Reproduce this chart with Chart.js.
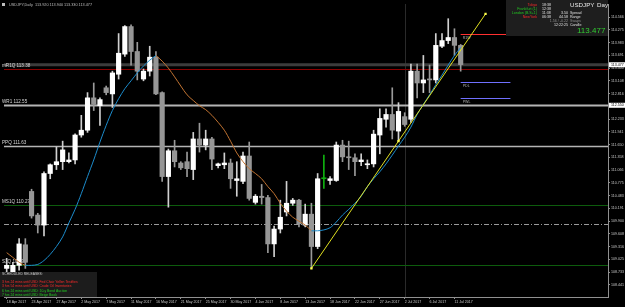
<!DOCTYPE html>
<html>
<head>
<meta charset="utf-8">
<script src="https://cdn.jsdelivr.net/npm/chart.js@4.4.0/dist/chart.umd.min.js"></script>
<style>
  html, body { margin: 0; padding: 0; background: #000; }
  canvas { display: block; }
</style>
</head>
<body>
<canvas id="usdjpyChart" width="625" height="307"></canvas>
<script>
// daily bars, broker shows sunday candles
const dates = [
  "18 Apr 2017", "19 Apr 2017", "20 Apr 2017", "21 Apr 2017", "23 Apr 2017", "24 Apr 2017", "25 Apr 2017", "26 Apr 2017", "27 Apr 2017", "28 Apr 2017",
  "30 Apr 2017", "1 May 2017", "2 May 2017", "3 May 2017", "4 May 2017", "5 May 2017", "7 May 2017", "8 May 2017", "9 May 2017", "10 May 2017",
  "11 May 2017", "12 May 2017", "14 May 2017", "15 May 2017", "16 May 2017", "17 May 2017", "18 May 2017", "19 May 2017", "21 May 2017", "22 May 2017",
  "23 May 2017", "24 May 2017", "25 May 2017", "26 May 2017", "28 May 2017", "29 May 2017", "30 May 2017", "31 May 2017", "1 Jun 2017", "2 Jun 2017",
  "4 Jun 2017", "5 Jun 2017", "6 Jun 2017", "7 Jun 2017", "8 Jun 2017", "9 Jun 2017", "11 Jun 2017", "12 Jun 2017", "13 Jun 2017", "14 Jun 2017",
  "15 Jun 2017", "16 Jun 2017", "18 Jun 2017", "19 Jun 2017", "20 Jun 2017", "21 Jun 2017", "22 Jun 2017", "23 Jun 2017", "25 Jun 2017", "26 Jun 2017",
  "27 Jun 2017", "28 Jun 2017", "29 Jun 2017", "30 Jun 2017", "2 Jul 2017", "3 Jul 2017", "4 Jul 2017", "5 Jul 2017", "6 Jul 2017", "7 Jul 2017",
  "9 Jul 2017", "10 Jul 2017", "11 Jul 2017", "12 Jul 2017"
];

const open = [
  108.82, 108.55, 108.89, 109.36, 110.58, 110.04, 109.81, 110.99, 111.19, 111.26,
  111.26, 111.30, 111.87, 111.98, 112.72, 112.54, 112.95, 112.81, 113.26, 113.72,
  114.35, 113.78, 113.15, 113.33, 113.65, 112.84, 110.92, 111.51, 111.23, 111.26,
  111.08, 111.78, 111.64, 111.78, 111.17, 111.19, 111.23, 110.83, 110.81, 111.39,
  110.33, 110.47, 110.44, 109.38, 109.72, 110.11, 110.31, 110.38, 109.81, 110.06,
  109.32, 110.87, 110.83, 110.83, 111.64, 111.37, 111.35, 111.26, 111.19, 111.21,
  111.87, 112.23, 112.34, 111.96, 112.29, 112.23, 113.33, 113.06, 113.15, 113.13,
  113.90, 114.03, 114.10, 113.92
];
const high = [
  109.05, 108.96, 109.50, 109.50, 110.63, 110.08, 111.03, 111.21, 111.60, 111.73,
  111.46, 111.90, 112.32, 112.84, 113.06, 112.72, 112.99, 113.33, 114.19, 114.37,
  114.39, 113.99, 113.38, 113.90, 113.78, 112.86, 111.55, 111.75, 111.26, 111.48,
  111.93, 112.14, 111.98, 111.82, 111.23, 111.46, 111.32, 111.26, 111.48, 111.71,
  110.51, 110.74, 110.49, 109.79, 110.38, 110.81, 110.42, 110.40, 110.29, 110.31,
  110.99, 111.41, 110.92, 111.71, 111.75, 111.73, 111.44, 111.44, 111.30, 111.98,
  112.47, 112.47, 112.95, 112.61, 112.38, 113.49, 113.49, 113.69, 113.47, 114.19,
  114.19, 114.53, 114.30, 113.94
];
const low = [
  108.55, 108.44, 108.78, 108.82, 109.97, 109.63, 109.56, 110.87, 111.08, 111.08,
  111.23, 111.21, 111.82, 111.93, 112.43, 112.09, 112.79, 112.50, 113.15, 113.67,
  113.47, 113.13, 113.11, 113.22, 112.79, 110.81, 110.22, 111.14, 111.08, 110.92,
  110.85, 111.48, 111.53, 111.08, 111.12, 111.10, 110.65, 110.47, 110.76, 110.38,
  110.29, 110.29, 109.18, 109.09, 109.63, 110.02, 110.26, 109.77, 109.77, 108.82,
  109.27, 110.65, 110.74, 110.81, 111.26, 111.08, 110.94, 111.17, 111.10, 111.14,
  111.44, 112.05, 111.78, 111.73, 112.07, 112.16, 112.72, 112.84, 112.84, 113.06,
  113.87, 113.96, 113.69, 113.33
];
const close = [
  108.89, 108.89, 109.38, 108.96, 110.02, 109.81, 110.99, 111.19, 111.26, 111.53,
  111.30, 111.87, 111.98, 112.72, 112.57, 112.68, 112.84, 113.29, 113.74, 114.35,
  113.78, 113.33, 113.33, 113.65, 112.81, 110.92, 111.51, 111.26, 111.12, 111.10,
  111.78, 111.64, 111.78, 111.32, 111.21, 111.23, 110.87, 110.87, 111.39, 110.42,
  110.47, 110.44, 109.38, 109.72, 109.99, 110.31, 110.38, 109.84, 110.06, 109.32,
  110.87, 110.89, 110.87, 111.64, 111.37, 111.35, 111.26, 111.30, 111.21, 111.89,
  112.25, 112.34, 111.98, 112.41, 112.11, 113.33, 113.06, 113.13, 113.13, 113.92,
  114.03, 114.10, 113.92, 113.48
];

// doji flagged by an indicator (drawn green)
const flaggedBar = 51;

// colour-switching moving average: blue while rising, orange while falling
const maRising = [
  null, null, null, 108.89, 108.89, 108.91, 109.00, 109.14, 109.32, 109.54,
  109.86, 110.17, 110.53, 110.92, 111.30, 111.71, 112.09, 112.43, 112.70, 112.93,
  113.11, 113.29, 113.45, 113.58, 113.69, null, null, null, null, null,
  null, null, null, null, null, null, null, null, null, null,
  null, null, null, null, null, null, null, null, null, 109.68,
  109.68, 109.70, 109.75, 109.88, 110.04, 110.17, 110.31, 110.47, 110.69, 110.87,
  111.03, 111.21, 111.41, 111.62, 111.82, 112.05, 112.34, 112.57, 112.79, 113.02,
  113.24, 113.47, 113.69, 113.87
];
const maFalling = [
  109.18, 109.07, 108.96, 108.89, null, null, null, null, null, null,
  null, null, null, null, null, null, null, null, null, null,
  null, null, null, null, 113.69, 113.56, 113.40, 113.20, 112.99, 112.79,
  112.66, 112.54, 112.45, 112.32, 112.16, 111.98, 111.73, 111.46, 111.26, 111.10,
  110.99, 110.87, 110.69, 110.53, 110.31, 110.13, 109.99, 109.90, 109.81, 109.68,
  null, null, null, null, null, null, null, null, null, null,
  null, null, null, null, null, null, null, null, null, null,
  null, null, null, null
];

// hand drawn trend line (bar index, price)
const trendIdx = [49, 63, 77];
const trendValues = [108.82, 111.73, 114.64];

const priceTicks = [
  114.566, 114.275, 113.983, 113.691, 113.400, 113.108, 112.816, 112.525, 112.233, 111.941, 111.650,
  111.358, 111.066, 110.775, 110.483, 110.191, 109.900, 109.608, 109.316, 109.025, 108.733, 108.441
];

const levelNames = ["mR1Q", "WR1", "PPQ", "MS1Q", "S1Q"];
const levelValues = [113.38, 112.55, 111.63, 110.27, 108.90];
const levelColors = ["#8b0000", "#b4b4b4", "#b4b4b4", "#0d5c0d", "#0d5c0d"];
const levelWidths = [1, 2, 1.5, 1, 1];
const dashLevel = 109.83;
const bidPrice = 113.477;

const shortNames = ["R1W", "PDL", "PWL"];
const shortValues = [114.19, 113.08, 112.72];
const shortColors = ["#ff3030", "#7070ff", "#7070ff"];

const releases = [
  "3 hrs 24 mins until USD: Fed Chair Yellen Testifies",
  "3 hrs 54 mins until USD: Crude Oil Inventories",
  "6 hrs 24 mins until USD: 10-y Bond Auction",
  "7 hrs 24 mins until USD: Beige Book"
];
const releaseColors = ["#ff2a2a", "#ff2a2a", "#22c822", "#22c822"];

const sessions = ["Tokyo", "Frankfurt (1)", "London (B.S+1)", "NewYork"];
const sessionTimes = ["18:38", "12:38", "11:38", "06:38"];
const sessionColors = ["#ff2a2a", "#22c822", "#22c822", "#ff2a2a"];
const statValues = ["3.50", "44.58", "1.56 / -0.22", "12:22:25"];
const statNames = ["Spread", "Range", "Swaps", "Candle"];

const FONT = '"Liberation Sans", Arial, sans-serif';
const bullColor = "#ffffff";
const bearColor = "#969696";
const flagColor = "#10b010";

const bodyColors = close.map((c, i) => (i === flaggedBar ? flagColor : c >= open[i] ? bullColor : bearColor));
const wickColors = bodyColors.map((c) => (c === bullColor ? "#d0d0d0" : c === bearColor ? "#9a9a9a" : c));
const tickIdx = dates.map((d, i) => i).filter((i) => i % 4 === 0);

const overlay = {
  id: "overlay",
  beforeDraw(chart) {
    const c = chart.ctx;
    c.save();
    c.fillStyle = "#000";
    c.fillRect(0, 0, chart.width, chart.height);
    c.restore();
  },
  beforeDatasetsDraw(chart) {
    const { ctx, chartArea: a, scales } = chart;
    const x = scales.x, y = scales.y;
    ctx.save();

    // month separator
    const sx = Math.round(x.getPixelForValue(64)) + 0.5;
    ctx.strokeStyle = "#2a2a2a";
    ctx.lineWidth = 1;
    ctx.beginPath();
    ctx.moveTo(sx, a.top);
    ctx.lineTo(sx, a.bottom);
    ctx.stroke();

    // bid line
    ctx.strokeStyle = "#3c3c3c";
    ctx.lineWidth = 3;
    let py = y.getPixelForValue(bidPrice);
    ctx.beginPath();
    ctx.moveTo(a.left, py);
    ctx.lineTo(a.right, py);
    ctx.stroke();

    // dash-dot level
    py = Math.round(y.getPixelForValue(dashLevel)) + 0.5;
    ctx.strokeStyle = "#9a9a9a";
    ctx.lineWidth = 1;
    ctx.setLineDash([5, 2, 1, 2]);
    ctx.beginPath();
    ctx.moveTo(a.left, py);
    ctx.lineTo(a.right, py);
    ctx.stroke();
    ctx.setLineDash([]);

    // pivot levels
    ctx.font = "4.6px " + FONT;
    ctx.textBaseline = "bottom";
    levelValues.forEach((v, i) => {
      const ly = Math.round(y.getPixelForValue(v)) + 0.5;
      ctx.strokeStyle = levelColors[i];
      ctx.lineWidth = levelWidths[i];
      ctx.beginPath();
      ctx.moveTo(a.left, ly);
      ctx.lineTo(a.right, ly);
      ctx.stroke();
      ctx.fillStyle = "#d8d8d8";
      ctx.fillText(levelNames[i] + " " + v.toFixed(2), 2, ly - 1.5);
    });

    // short weekly / daily lines on the right
    ctx.font = "3.6px " + FONT;
    ctx.textBaseline = "top";
    shortValues.forEach((v, i) => {
      const ly = Math.round(y.getPixelForValue(v)) + 0.5;
      const x0 = x.getPixelForValue(73);
      const x1 = x.getPixelForValue(81);
      ctx.strokeStyle = shortColors[i];
      ctx.lineWidth = 1;
      ctx.beginPath();
      ctx.moveTo(x0, ly);
      ctx.lineTo(x1, ly);
      ctx.stroke();
      ctx.fillStyle = "#b0b0b0";
      ctx.fillText(shortNames[i], x0 + 2, ly + 1.5);
    });
    ctx.restore();
  },
  afterDraw(chart) {
    const { ctx, chartArea: a, scales } = chart;
    const y = scales.y;
    ctx.save();

    // header
    ctx.fillStyle = "#bdbdbd";
    ctx.fillRect(2, 3, 3, 3);
    ctx.font = "3.8px " + FONT;
    ctx.textBaseline = "middle";
    ctx.fillText("USDJPY,Daily  " + open[73].toFixed(3) + " " + high[73].toFixed(3) + " " +
      low[73].toFixed(3) + " " + bidPrice.toFixed(3), 9, 5);

    // price boxes on the axis
    [bidPrice, levelValues[1]].forEach((v) => {
      const by = y.getPixelForValue(v);
      ctx.fillStyle = "#ffffff";
      ctx.fillRect(a.right + 1, by - 2.5, 625 - a.right - 1, 5);
      ctx.fillStyle = "#000";
      ctx.font = "3.6px " + FONT;
      ctx.textBaseline = "middle";
      ctx.fillText(v.toFixed(3), a.right + 3, by);
    });

    // info panel
    ctx.fillStyle = "#1e1e1e";
    ctx.fillRect(506, 0, a.right - 506, 36);
    ctx.font = "3.6px " + FONT;
    ctx.textBaseline = "middle";
    sessions.forEach((s, i) => {
      const ry = 4.5 + i * 4.3;
      ctx.textAlign = "right";
      ctx.fillStyle = sessionColors[i];
      ctx.fillText(s, 537, ry);
      ctx.textAlign = "left";
      ctx.fillStyle = "#e0e0e0";
      ctx.fillText(sessionTimes[i], 542, ry);
    });
    statValues.forEach((s, i) => {
      const ry = 12.5 + i * 4.2;
      ctx.textAlign = "right";
      ctx.fillStyle = i === 2 ? "#909090" : "#e0e0e0";
      ctx.fillText(s, 568, ry);
      ctx.textAlign = "left";
      ctx.fillText(statNames[i], 570, ry);
    });
    ctx.textAlign = "left";
    ctx.fillStyle = "#e8e8e8";
    ctx.font = "6.2px " + FONT;
    ctx.fillText("USDJPY", 570, 5.5);
    ctx.fillText("Day", 597, 5.5);
    ctx.fillStyle = "#32cd32";
    ctx.font = "8px " + FONT;
    ctx.fillText(bidPrice.toFixed(3), 577, 31);

    // scheduled releases box
    ctx.fillStyle = "#1c1c1c";
    ctx.fillRect(0, 272, 97, a.bottom - 272);
    ctx.font = "3.4px " + FONT;
    ctx.fillStyle = "#d0d0d0";
    ctx.fillText("SCHEDULED RELEASES:", 2, 274.5);
    releases.forEach((r, i) => {
      ctx.fillStyle = releaseColors[i];
      ctx.fillText(r, 2, 282 + i * 4.4);
    });
    ctx.restore();
  }
};

new Chart(document.getElementById("usdjpyChart").getContext("2d"), {
  type: "bar",
  data: {
    datasets: [
      {
        type: "line",
        label: "trend",
        data: trendIdx.map((v, i) => ({ x: v, y: trendValues[i] })),
        borderColor: "#e0e020",
        borderWidth: 1,
        pointStyle: "rect",
        pointRadius: 1.6,
        pointBackgroundColor: "#ffff50",
        pointBorderWidth: 0
      },
      {
        type: "line",
        label: "ma up",
        data: maRising.map((v, i) => ({ x: i, y: v })),
        borderColor: "#1c8ccc",
        borderWidth: 1,
        pointRadius: 0,
        tension: 0.3,
        spanGaps: false
      },
      {
        type: "line",
        label: "ma down",
        data: maFalling.map((v, i) => ({ x: i, y: v })),
        borderColor: "#c27432",
        borderWidth: 1,
        pointRadius: 0,
        tension: 0.3,
        spanGaps: false
      },
      {
        label: "body",
        data: open.map((o, i) => ({ x: i, y: [o, close[i]] })),
        backgroundColor: bodyColors,
        barThickness: 4.5,
        minBarLength: 1,
        grouped: false
      },
      {
        label: "wick",
        data: low.map((l, i) => ({ x: i, y: [l, high[i]] })),
        backgroundColor: wickColors,
        barThickness: 1,
        grouped: false
      }
    ]
  },
  options: {
    responsive: false,
    animation: false,
    devicePixelRatio: 1,
    layout: { padding: 0 },
    plugins: { legend: { display: false }, tooltip: { enabled: false } },
    scales: {
      x: {
        type: "linear",
        min: -0.431,
        max: 96.69,
        offset: false,
        afterBuildTicks: (s) => { s.ticks = tickIdx.map((v) => ({ value: v })); },
        afterFit: (s) => { s.height = 10; s.paddingLeft = 0; s.paddingRight = 0; },
        ticks: {
          autoSkip: false,
          maxRotation: 0,
          align: "start",
          padding: 1,
          color: "#c8c8c8",
          font: { size: 3.6, family: FONT },
          callback: (v) => dates[v]
        },
        grid: { offset: false, drawOnChartArea: false, tickLength: 2, color: "#909090" },
        border: { color: "#909090" }
      },
      y: {
        position: "right",
        min: 108.166,
        max: 114.866,
        afterBuildTicks: (s) => { s.ticks = priceTicks.map((v) => ({ value: v })); },
        afterFit: (s) => { s.width = 17; s.paddingTop = 0; s.paddingBottom = 0; },
        ticks: {
          padding: 1,
          color: "#c8c8c8",
          font: { size: 3.6, family: FONT },
          callback: (v) => v.toFixed(3)
        },
        grid: { drawOnChartArea: false, tickLength: 2, color: "#909090" },
        border: { color: "#909090" }
      }
    }
  },
  plugins: [overlay]
});
</script>
</body>
</html>
